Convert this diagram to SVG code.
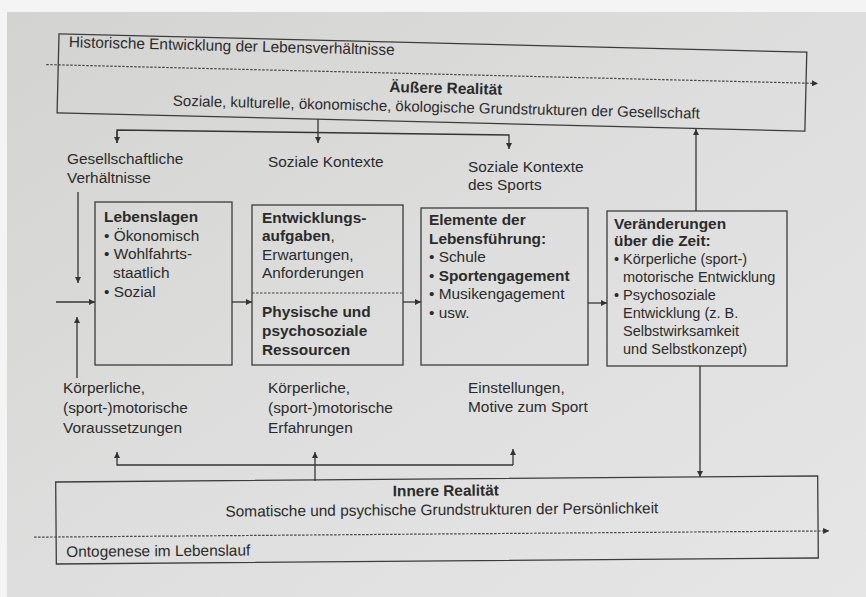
<svg xmlns="http://www.w3.org/2000/svg" width="866" height="597" viewBox="0 0 866 597">
<defs>
<linearGradient id="paper" x1="0" y1="0" x2="1" y2="1">
<stop offset="0" stop-color="#d3d3d1"/>
<stop offset="0.5" stop-color="#dedede"/>
<stop offset="1" stop-color="#e6e6e6"/>
</linearGradient>
<marker id="ah" viewBox="0 0 10 10" refX="10" refY="5" markerWidth="6" markerHeight="6" markerUnits="userSpaceOnUse" orient="auto">
<path d="M0,0 L10,5 L0,10 z" fill="#333"/>
</marker>
<style>
text{font-family:"Liberation Sans",Arial,Helvetica,sans-serif;font-size:15.4px;fill:#2b2b2b}
.b{font-weight:bold}
.s{font-size:14.5px}
.box{fill:none;stroke:#3c3c3c;stroke-width:1.3}
.ln{fill:none;stroke:#353535;stroke-width:1.3}
.dash{fill:none;stroke:#444;stroke-width:1.2;stroke-dasharray:2.5 1.5}
.c{text-anchor:middle}
</style>
</defs>
<rect width="866" height="597" fill="#f4f4f4"/>
<rect x="7" y="12" width="859" height="585" fill="url(#paper)"/>

<g id="aeussere-realitaet" transform="rotate(1.4 432 80)">
<rect class="box" x="58" y="43" width="748" height="79"/>
<text x="68" y="56">Historische Entwicklung der Lebensverhältnisse</text>
<line class="dash" x1="46" y1="74" x2="818" y2="74" marker-end="url(#ah)"/>
<text class="b c" x="446" y="93">Äußere Realität</text>
<text class="c" x="437" y="112" style="font-size:15px">Soziale, kulturelle, ökonomische, ökologische Grundstrukturen der Gesellschaft</text>
</g>

<g id="label-gesellschaftlich">
<text x="67" y="164">Gesellschaftliche</text>
<text x="67" y="183">Verhältnisse</text>
</g>
<g id="label-soziale-kontexte">
<text x="268" y="167">Soziale Kontexte</text>
</g>
<g id="label-kontexte-sport">
<text x="468" y="172">Soziale Kontexte</text>
<text x="468" y="190">des Sports</text>
</g>

<g id="lebenslagen">
<rect class="box" x="95" y="202" width="137" height="163"/>
<text class="b" x="104" y="222">Lebenslagen</text>
<text x="104" y="241">• Ökonomisch</text>
<text x="104" y="259">• Wohlfahrts-</text>
<text x="113" y="278">staatlich</text>
<text x="104" y="297">• Sozial</text>
</g>

<g id="entwicklungsaufgaben">
<rect class="box" x="252" y="205" width="151" height="160"/>
<text class="b" x="262" y="223">Entwicklungs-</text>
<text x="262" y="241"><tspan class="b">aufgaben</tspan>,</text>
<text x="262" y="260">Erwartungen,</text>
<text x="262" y="278">Anforderungen</text>
<line class="dash" x1="252" y1="293" x2="403" y2="293"/>
<text class="b" x="262" y="317">Physische und</text>
<text class="b" x="262" y="336">psychosoziale</text>
<text class="b" x="262" y="355">Ressourcen</text>
</g>

<g id="lebensfuehrung">
<rect class="box" x="421" y="208" width="167" height="157"/>
<text class="b" x="429" y="225">Elemente der</text>
<text class="b" x="429" y="244">Lebensführung:</text>
<text x="429" y="262">• Schule</text>
<text x="429" y="281">• <tspan class="b">Sportengagement</tspan></text>
<text x="429" y="299">• Musikengagement</text>
<text x="429" y="318">• usw.</text>
</g>

<g id="veraenderungen">
<rect class="box" x="607" y="211" width="180" height="155"/>
<text class="b" x="614" y="229">Veränderungen</text>
<text class="b" x="614" y="246">über die Zeit:</text>
<text class="s" x="614" y="264">• Körperliche (sport-)</text>
<text class="s" x="623" y="282">motorische Entwicklung</text>
<text class="s" x="614" y="300">• Psychosoziale</text>
<text class="s" x="623" y="318">Entwicklung (z. B.</text>
<text class="s" x="623" y="336">Selbstwirksamkeit</text>
<text class="s" x="623" y="354">und Selbstkonzept)</text>
</g>

<g id="label-voraussetzungen">
<text x="63" y="393">Körperliche,</text>
<text x="63" y="413">(sport-)motorische</text>
<text x="63" y="433">Voraussetzungen</text>
</g>
<g id="label-erfahrungen">
<text x="268" y="393">Körperliche,</text>
<text x="268" y="413">(sport-)motorische</text>
<text x="268" y="433">Erfahrungen</text>
</g>
<g id="label-einstellungen">
<text x="468" y="393">Einstellungen,</text>
<text x="468" y="412">Motive zum Sport</text>
</g>

<g id="innere-realitaet" transform="rotate(-0.45 437 520)">
<rect class="box" x="56" y="479" width="762" height="82"/>
<text class="b c" x="446" y="496">Innere Realität</text>
<text class="c" x="442" y="515">Somatische und psychische Grundstrukturen der Persönlichkeit</text>
<line class="dash" x1="34" y1="534" x2="829" y2="534" marker-end="url(#ah)"/>
<text x="66" y="554">Ontogenese im Lebenslauf</text>
</g>

<g id="connectors">
<polyline class="ln" points="117,143 117,130 509,135 509,149" marker-end="url(#ah)"/>
<line class="ln" x1="117" y1="131" x2="117" y2="143" marker-end="url(#ah)"/>
<line class="ln" x1="318" y1="119" x2="318" y2="143" marker-end="url(#ah)"/>
<line class="ln" x1="696" y1="211" x2="696" y2="129" marker-end="url(#ah)"/>
<line class="ln" x1="78" y1="192" x2="78" y2="283" marker-end="url(#ah)"/>
<line class="ln" x1="77" y1="378" x2="77" y2="317" marker-end="url(#ah)"/>
<line class="ln" x1="56" y1="302" x2="95" y2="302" marker-end="url(#ah)"/>
<line class="ln" x1="232" y1="302" x2="252" y2="302" marker-end="url(#ah)"/>
<line class="ln" x1="403" y1="302" x2="421" y2="302" marker-end="url(#ah)"/>
<line class="ln" x1="588" y1="303" x2="607" y2="303" marker-end="url(#ah)"/>
<polyline class="ln" points="513,465 117,465 117,452" marker-end="url(#ah)"/>
<line class="ln" x1="513" y1="465" x2="513" y2="449" marker-end="url(#ah)"/>
<line class="ln" x1="315" y1="481" x2="315" y2="452" marker-end="url(#ah)"/>
<line class="ln" x1="700" y1="366" x2="700" y2="477" marker-end="url(#ah)"/>
</g>
</svg>
